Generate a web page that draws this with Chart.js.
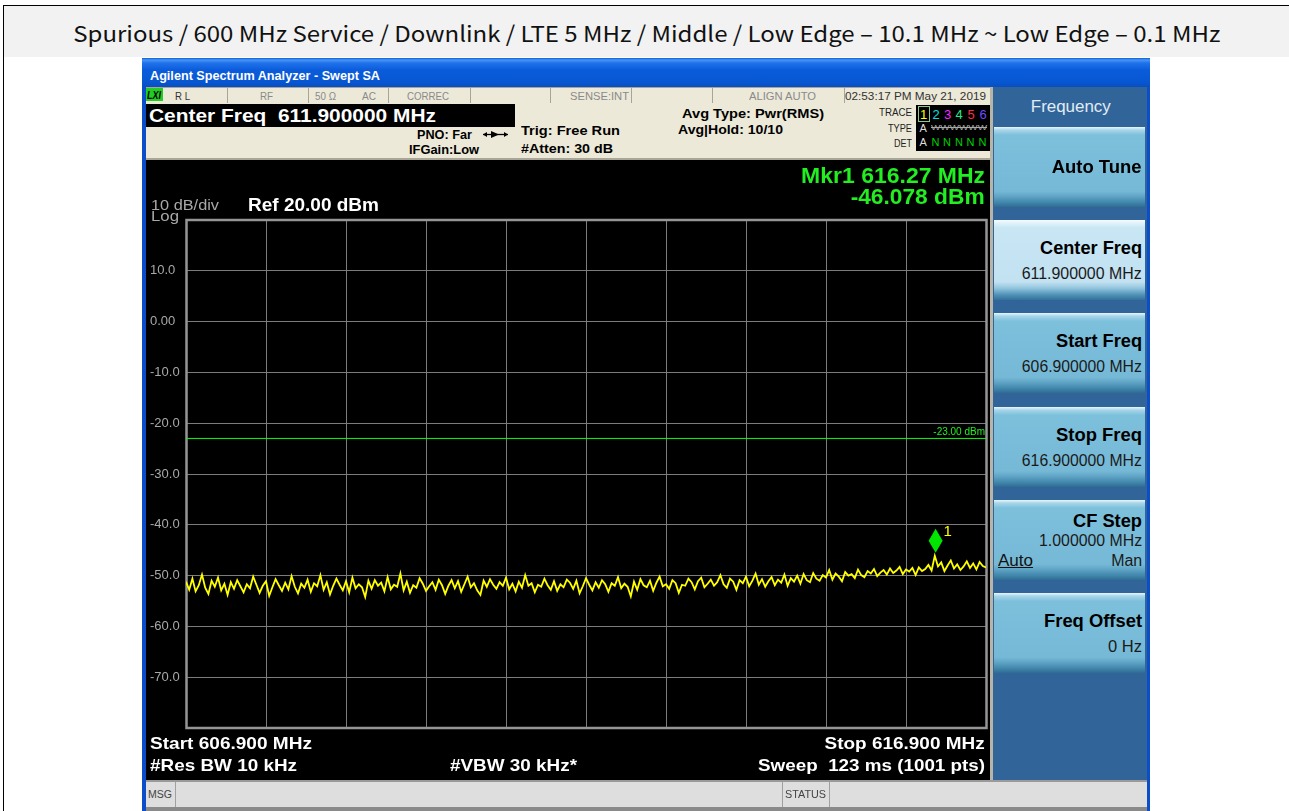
<!DOCTYPE html>
<html><head><meta charset="utf-8">
<script src="https://cdn.jsdelivr.net/npm/chart.js@4.4.1/dist/chart.umd.min.js"></script>
<style>
body{margin:0;background:#fff;}
#page{position:relative;width:1289px;height:811px;overflow:hidden;background:#fff;font-family:"Liberation Sans",Arial,sans-serif;}
.t{position:absolute;white-space:pre;}
.box{position:absolute;}
.key{position:absolute;left:994px;width:151px;height:80px;
 background:linear-gradient(to bottom,#eaf6fb 0px,#a9d6ea 3px,#7dc0dc 8px,#76b9d7 64px,#62a6c7 69px,#4389ae 75px,#2f6c94 80px);}
.key.sel{background:linear-gradient(to bottom,#f6fcfe 0px,#dbf0f9 4px,#c8e6f4 8px,#c2e1f1 62px,#93c6de 68px,#4f91b6 75px,#35709a 80px);}
</style></head>
<body><div id="page">
 <div class="box" style="left:3px;top:5px;width:1290px;height:51px;border:1px solid #000;background:#f2f2f2;"></div>
 <div class="box" style="left:3px;top:57px;width:1290px;height:760px;border-left:1px solid #000;border-right:1px solid #000;background:#fff;"></div>
 <!-- window frame -->
 <div class="box" style="left:142px;top:58px;width:1008px;height:760px;background:#0a4fc8;"></div>
 <div class="box" style="left:142px;top:58px;width:1008px;height:29px;background:linear-gradient(to bottom,#0a5fd6 0px,#4a95f6 2px,#1f72ea 5px,#0b5cdb 12px,#0757d2 24px,#0a4ec0 29px);"></div>
 <div class="box" style="left:146px;top:87px;width:844px;height:17px;background:#ece9d8;border-top:1px solid #a8a49a;box-sizing:border-box;"></div>
 <div class="box" style="left:146px;top:104px;width:844px;height:55px;background:#ece9d8;"></div>
 <div class="box" style="left:146px;top:158px;width:844px;height:2px;background:#a9a597;"></div>
 <div class="box" style="left:146px;top:160px;width:844px;height:620px;background:#000;"></div>
 <div class="box" style="left:990px;top:87px;width:157px;height:693px;background:#31659a;border-left:3px solid #b7b4a8;box-sizing:border-box;"></div>
 <div class="box" style="left:146px;top:780px;width:1001px;height:28px;background:#dedede;border-top:2px solid #9a9a9a;box-sizing:border-box;"></div>
 <div class="box" style="left:146px;top:807px;width:1001px;height:4px;background:#8a8a8a;"></div>
 <div class="box" style="left:146px;top:88px;width:17px;height:13px;background:#22cc22;"></div>
 <div class="box" style="left:146px;top:104px;width:369px;height:23px;background:#000;"></div>
 <div class="box" style="left:916px;top:105px;width:74px;height:46px;background:#000;"></div>
 <div class="box" style="left:918px;top:106px;width:10px;height:14px;border:1px solid #8cc88c;"></div>
 <svg class="box" style="left:482px;top:130px" width="27" height="9"><line x1="1" y1="4.5" x2="26" y2="4.5" stroke="#000" stroke-width="1.3"/><polygon points="9,1 17,4.5 9,8" fill="#000"/><polygon points="1,4.5 5,2 5,7" fill="#000"/><polygon points="26,4.5 22,2 22,7" fill="#000"/></svg>
 <canvas id="c" width="844" height="620" style="position:absolute;left:146px;top:160px;"></canvas>
</div>
<script>
// ---- data ----
const titleText = 'Spurious / 600 MHz Service / Downlink / LTE 5 MHz / Middle / Low Edge – 10.1 MHz ~ Low Edge – 0.1 MHz';
const startFreq = 606.9, stopFreq = 616.9;
const refLevel = 20, bottomLevel = -80;
const yTickValues = [-80, -70, -60, -50, -40, -30, -20, -10, 0, 10, 20];
const yTickLabels = ['', '-70.0', '-60.0', '-50.0', '-40.0', '-30.0', '-20.0', '-10.0', '0.00', '10.0', ''];
const xGridFreqs = [606.9, 607.9, 608.9, 609.9, 610.9, 611.9, 612.9, 613.9, 614.9, 615.9, 616.9];
const limitLevel = -23;
const limitLabel = '-23.00 dBm';
const markerFreq = 616.27, markerLevel = -46.078;
const traceLevels = [
-51.2,-52.8,-50.6,-53.1,-51.9,-49.8,-52.4,-53.6,-51.0,-52.2,-50.4,-52.9,-51.6,-53.8,-51.3,-52.6,-50.9,-52.1,-53.3,-51.7,
-52.5,-50.2,-51.8,-53.4,-52.0,-51.1,-54.0,-52.3,-50.7,-51.9,-53.0,-51.4,-52.7,-50.1,-52.2,-53.5,-51.6,-52.4,-50.8,-53.2,
-51.5,-52.1,-49.9,-52.8,-51.3,-53.7,-52.0,-50.6,-51.8,-52.9,-51.1,-53.3,-50.4,-52.5,-51.7,-52.3,-54.2,-51.0,-52.6,-50.9,
-52.0,-51.4,-53.1,-50.3,-52.7,-51.8,-52.2,-49.6,-52.9,-51.2,-53.4,-51.9,-52.4,-50.5,-51.6,-53.0,-52.1,-51.3,-52.8,-50.8,
-51.9,-53.6,-52.0,-50.9,-52.5,-51.1,-53.2,-51.7,-50.2,-52.3,-51.5,-52.9,-53.8,-51.0,-52.2,-50.7,-51.8,-52.6,-51.3,-52.0,
-50.4,-52.7,-51.6,-53.1,-51.2,-52.4,-49.9,-52.0,-51.5,-53.3,-51.8,-52.2,-50.6,-51.9,-52.8,-51.1,-53.0,-51.7,-52.3,-50.8,
-51.4,-52.6,-51.0,-53.5,-52.1,-50.5,-51.8,-52.9,-51.3,-52.4,-50.9,-51.7,-53.2,-51.5,-52.0,-50.3,-52.5,-51.6,-52.2,-54.1,
-51.2,-52.8,-50.7,-51.9,-52.3,-51.0,-53.0,-51.4,-50.2,-52.1,-51.7,-52.6,-50.9,-51.5,-53.4,-51.8,-52.0,-50.6,-51.3,-52.7,
-51.1,-50.4,-52.3,-51.6,-50.8,-52.0,-51.3,-49.9,-51.7,-52.4,-50.6,-51.2,-52.8,-50.9,-51.5,-50.2,-52.1,-51.0,-49.6,-51.8,
-50.7,-52.2,-51.1,-50.3,-51.9,-50.8,-51.4,-49.8,-52.0,-50.5,-51.2,-50.0,-51.6,-49.7,-50.9,-51.3,-49.5,-50.6,-51.0,-49.9,
-50.4,-48.9,-50.8,-49.6,-50.2,-51.1,-49.3,-50.0,-49.7,-50.5,-48.8,-49.9,-50.3,-49.1,-49.6,-48.7,-50.1,-49.4,-48.9,-49.8,
-48.6,-49.5,-49.0,-48.3,-49.7,-48.8,-49.2,-48.5,-49.9,-48.4,-49.1,-48.7,-47.9,-49.0,-46.1,-48.2,-47.4,-49.1,-48.0,-47.0,
-48.6,-47.8,-48.9,-48.2,-47.2,-48.5,-47.6,-48.8,-47.3,-48.1,-48.4
];

// ---- text helper ----
const page = document.getElementById('page');
function T(text, x, base, size, o = {}) {
  const d = document.createElement('div');
  d.className = 't';
  d.textContent = text;
  d.style.fontSize = size + 'px';
  d.style.lineHeight = size + 'px';
  d.style.fontWeight = o.b ? 'bold' : 'normal';
  d.style.color = o.c || '#000';
  if (o.i) d.style.fontStyle = 'italic';
  if (o.u) d.style.textDecoration = 'underline';
  if (o.f) d.style.fontFamily = o.f;
  page.appendChild(d);
  d.style.top = (base - 0.846 * size) + 'px';
  const w = d.getBoundingClientRect().width;
  const a = o.a || 'l';
  if (a === 'l') { d.style.left = x + 'px'; d.style.transformOrigin = '0 0'; }
  else if (a === 'r') { d.style.left = (x - w) + 'px'; d.style.transformOrigin = '100% 0'; }
  else { d.style.left = (x - w / 2) + 'px'; d.style.transformOrigin = '50% 0'; }
  if (o.w) d.style.transform = 'scaleX(' + (o.w / w) + ')';
  return d;
}

// page title
(function(){
  const d = document.createElement('div');
  d.style.cssText = 'position:absolute;left:4px;top:6px;width:1285px;height:51px;display:flex;align-items:center;justify-content:center;font-family:"Noto Sans CJK KR","Noto Sans",sans-serif;font-size:22px;color:#111;white-space:nowrap;';
  page.appendChild(d);
  const s = document.createElement('span'); s.textContent = titleText; d.appendChild(s);
  const w = s.getBoundingClientRect().width;
  s.style.display='inline-block'; s.style.transform = 'scaleX(' + (1147 / w) + ')';
})();

// window title
T('Agilent Spectrum Analyzer - Swept SA', 150, 80, 13, {b:1, c:'#fff', w:230});
// status row
const sepX = [227, 308, 388, 470, 550, 631, 712, 844];
sepX.forEach(x => { const s = document.createElement('div'); s.style.cssText='position:absolute;left:'+x+'px;top:88px;width:1px;height:15px;background:#a8a49a;'; page.appendChild(s); });
T('LXI', 147, 99.5, 10, {b:1, i:1, c:'#000', w:14});
T('R L', 175, 100, 10.5, {c:'#333', w:15});
T('RF', 260, 100, 10.5, {c:'#8a8a8a', w:13});
T('50 Ω', 315, 100, 10.5, {c:'#8a8a8a', w:21});
T('AC', 362, 100, 10.5, {c:'#8a8a8a', w:14});
T('CORREC', 407, 100, 10.5, {c:'#8a8a8a', w:42});
T('SENSE:INT', 570, 100, 10.5, {c:'#8a8a8a', w:59});
T('ALIGN AUTO', 749, 100, 10.5, {c:'#8a8a8a', w:67});
T('02:53:17 PM May 21, 2019', 845, 100, 10.5, {c:'#333', w:141});
// info panel
T('Center Freq  611.900000 MHz', 149, 123, 18.5, {b:1, c:'#fff', w:287});
T('PNO: Far', 417, 140, 12.5, {b:1, w:55});
T('IFGain:Low', 409, 154.5, 12.5, {b:1, w:70});
T('Trig: Free Run', 521, 135, 13.5, {b:1, w:99});
T('#Atten: 30 dB', 521, 153, 13.5, {b:1, w:92});
T('Avg Type: Pwr(RMS)', 682, 118, 13.5, {b:1, w:142});
T('Avg|Hold: 10/10', 678, 134, 13.5, {b:1, w:105});
T('TRACE', 879, 116, 10, {c:'#222', w:33});
T('TYPE', 888, 132, 10, {c:'#222', w:24});
T('DET', 894, 147, 10, {c:'#222', w:18});
const trColors = ['#ffff00', '#00e0e0', '#ff22ff', '#22ee88', '#ff2a4a', '#6a4cff'];
const trX = [920, 932.5, 944, 955.5, 967.5, 979.5];
['1','2','3','4','5','6'].forEach((n, i) => T(n, trX[i], 119, 13, {c: trColors[i]}));
T('A', 919.5, 132, 11, {c:'#ddd'});
T('WWWWWW', 931, 131, 8, {c:'#aaa', w:56}).style.textDecoration = 'line-through';
T('A', 919.5, 146, 11, {c:'#ddd'});
['N','N','N','N','N'].forEach((n, i) => T(n, [931.5, 943, 955, 966.5, 978.5][i], 146, 11, {c:'#00d000'}));
// display overlay text
T('10 dB/div', 151, 210, 14, {c:'#a8a8a8', w:68});
T('Log', 151, 221, 14, {c:'#a8a8a8', w:28});
T('Ref 20.00 dBm', 247.5, 211, 18, {b:1, c:'#fff', w:131});
T('Mkr1 616.27 MHz', 985, 184, 22, {b:1, c:'#22ee22', a:'r', w:184});
T('-46.078 dBm', 985, 205, 22, {b:1, c:'#22ee22', a:'r', w:134});
T('Start 606.900 MHz', 149.5, 749, 17, {b:1, c:'#fff', w:162});
T('#Res BW 10 kHz', 149.5, 771, 17, {b:1, c:'#fff', w:147});
T('#VBW 30 kHz*', 450, 771, 17, {b:1, c:'#fff', w:127});
T('Stop 616.900 MHz', 985, 749, 17, {b:1, c:'#fff', a:'r', w:160});
T('Sweep  123 ms (1001 pts)', 985, 771, 17, {b:1, c:'#fff', a:'r', w:227});
// msg bar
[175, 782, 829].forEach(x => { const s = document.createElement('div'); s.style.cssText='position:absolute;left:'+x+'px;top:782px;width:1px;height:25px;background:#a0a0a0;'; page.appendChild(s); });
T('MSG', 148, 798, 10, {c:'#444', w:24});
T('STATUS', 785, 798, 10, {c:'#444', w:41});
// softkeys
T('Frequency', 1071, 112.5, 16, {c:'#e2ecf4', a:'c', w:80});
const keys = [
  {top:127, sel:false, lines:[['Auto Tune', 46.7, 18, 1, 90]]},
  {top:220, sel:true,  lines:[['Center Freq', 34.5, 18, 1, 102], ['611.900000 MHz', 60, 16, 0, 120]]},
  {top:313, sel:false, lines:[['Start Freq', 34.5, 18, 1, 86], ['606.900000 MHz', 60, 16, 0, 120]]},
  {top:407, sel:false, lines:[['Stop Freq', 34.5, 18, 1, 86], ['616.900000 MHz', 60, 16, 0, 120]]},
  {top:500, sel:false, lines:[['CF Step', 27.7, 18, 1, 69], ['1.000000 MHz', 46.7, 16, 0, 103], ['Man', 66.7, 16, 0, 31]]},
  {top:593, sel:false, lines:[['Freq Offset', 34.5, 18, 1, 98], ['0 Hz', 60, 16, 0, 34]]}
];
keys.forEach(k => {
  const d = document.createElement('div'); d.className = 'key' + (k.sel ? ' sel' : ''); d.style.top = k.top + 'px'; page.appendChild(d);
  k.lines.forEach(l => T(l[0], 1142, k.top + l[1], l[2], {b:l[3], c: l[3] ? '#000' : '#1a1a1a', a:'r', w:l[4]}));
});
T('Auto', 997.5, 566.7, 16, {c:'#111', u:1, w:35});

// ---- chart ----
const n = traceLevels.length;
const traceData = traceLevels.map((v, i) => ({x: startFreq + i * (stopFreq - startFreq) / (n - 1), y: v}));
const labelFor = v => { const i = yTickValues.indexOf(Math.round(v)); return i >= 0 ? yTickLabels[i] : ''; };

const overlay = {
  id: 'overlay',
  beforeDatasetsDraw(chart) {
    const {ctx, chartArea: a} = chart;
    ctx.save();
    ctx.strokeStyle = '#959595'; ctx.lineWidth = 2.5;
    ctx.strokeRect(a.left + 0.5, a.top, a.right - a.left, a.bottom - a.top);
    ctx.restore();
  },
  afterDatasetsDraw(chart) {
    const {ctx, chartArea: a, scales: {x, y}} = chart;
    ctx.save();
    const ly = y.getPixelForValue(limitLevel);
    ctx.fillStyle = '#22ee22'; ctx.font = '10px "Liberation Sans", Arial'; ctx.textAlign = 'right'; ctx.textBaseline = 'alphabetic';
    ctx.fillText(limitLabel, a.right - 1, ly - 3);
    const px = x.getPixelForValue(markerFreq), py = y.getPixelForValue(markerLevel);
    const cy = py - 15;
    ctx.beginPath(); ctx.moveTo(px, cy - 12); ctx.lineTo(px + 7, cy); ctx.lineTo(px, cy + 12); ctx.lineTo(px - 7, cy); ctx.closePath();
    ctx.fillStyle = '#00e600'; ctx.fill();
    ctx.fillStyle = '#ffff00'; ctx.font = '15px "Liberation Sans", Arial'; ctx.textAlign = 'left';
    ctx.fillText('1', px + 8, py - 20);
    ctx.restore();
  }
};

new Chart(document.getElementById('c'), {
  type: 'line',
  data: {datasets: [
    {data: traceData, borderColor: '#ffff00', borderWidth: 1.8, pointRadius: 0, tension: 0},
    {data: [{x: startFreq, y: limitLevel}, {x: stopFreq, y: limitLevel}], borderColor: '#00ff00', borderWidth: 1, pointRadius: 0}
  ]},
  options: {
    responsive: false, animation: false, events: [],
    plugins: {legend: {display: false}, tooltip: {enabled: false}},
    layout: {padding: {left: 4, top: 60, right: 4, bottom: 52}},
    scales: {
      x: {type: 'linear', min: startFreq, max: stopFreq,
          afterBuildTicks: s => { s.ticks = xGridFreqs.map(v => ({value: v})); },
          afterFit: s => { s.height = 0; },
          ticks: {display: false}, border: {display: false},
          grid: {color: '#7c7c7c', lineWidth: 1, drawTicks: false}},
      y: {type: 'linear', min: bottomLevel, max: refLevel,
          afterBuildTicks: s => { s.ticks = yTickValues.map(v => ({value: v})); },
          afterFit: s => { s.width = 36; },
          ticks: {color: '#a8a8a8', font: {family: '"Liberation Sans", Arial', size: 13}, crossAlign: 'far', padding: 0, callback: v => labelFor(v)},
          border: {display: false},
          grid: {color: '#7c7c7c', lineWidth: 1, drawTicks: false}}
    }
  },
  plugins: [overlay]
});
</script>
</body></html>
